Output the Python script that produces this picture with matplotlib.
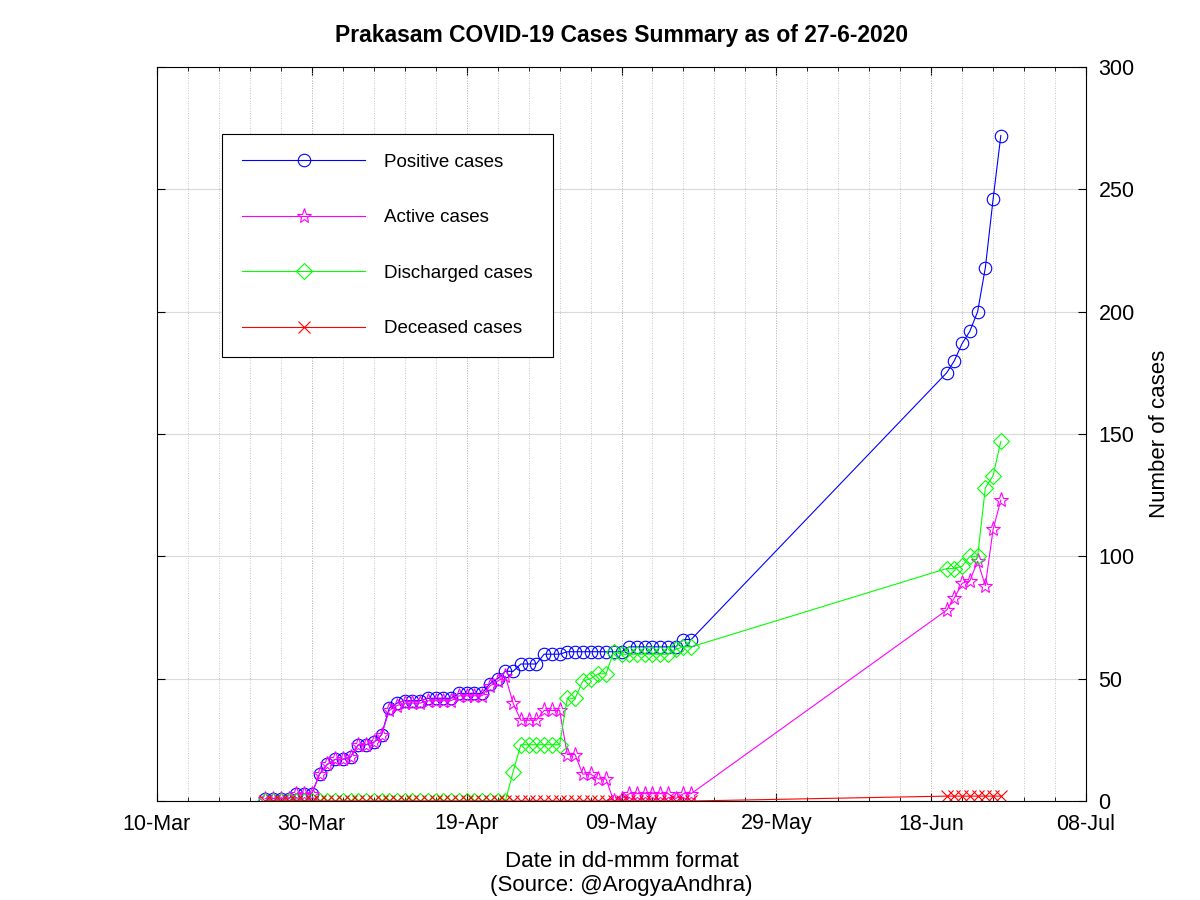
import pandas as pd
import matplotlib
matplotlib.use("Agg")
import matplotlib.pyplot as plt
import matplotlib.dates as mdates

plt.rcParams['font.family'] = ['Liberation Sans', 'DejaVu Sans']

# -------------------------------
# Data (daily bulletins, two reporting stretches)
# -------------------------------
dates = list(pd.date_range("2020-03-24", "2020-05-18")) + list(pd.date_range("2020-06-20", "2020-06-27"))

positive = [1, 1, 1, 1, 3, 3, 3, 11,
            15, 17, 17, 18, 23, 23, 24, 27, 38, 40,
            41, 41, 41, 42, 42, 42, 42, 44, 44, 44,
            44, 48, 50, 53, 53, 56, 56, 56, 60, 60,
            60, 61, 61, 61, 61, 61, 61, 61, 61, 63,
            63, 63, 63, 63, 63, 63, 66, 66,
            175, 180, 187, 192, 200, 218, 246, 272]

active = [1, 1, 1, 1, 3, 3, 3, 11,
          15, 17, 17, 18, 23, 23, 24, 27, 37, 39,
          40, 40, 40, 41, 41, 41, 41, 43, 43, 43,
          43, 47, 49, 51, 40, 33, 33, 33, 37, 37,
          37, 19, 19, 11, 11, 9, 9, 0, 1, 3,
          3, 3, 3, 3, 3, 1, 3, 3,
          78, 83, 89, 90, 98, 88, 111, 123]

discharged = [0, 0, 0, 0, 0, 0, 0, 0,
              0, 0, 0, 0, 0, 0, 0, 0, 0, 0,
              0, 0, 0, 0, 0, 0, 0, 0, 0, 0,
              0, 0, 0, 0, 12, 23, 23, 23, 23, 23,
              23, 42, 42, 49, 50, 52, 52, 61, 60, 60,
              60, 60, 60, 60, 60, 62, 63, 63,
              95, 95, 96, 100, 100, 128, 133, 147]

deceased = [0] * 56 + [2, 2, 2, 2, 2, 2, 2, 2]

x_start, x_end = "2020-03-10", "2020-07-08"

# -------------------------------
# Plot
# -------------------------------
fig = plt.figure(figsize=(12, 9), dpi=100)
ax = fig.add_axes([157 / 1200, 99 / 900, 929 / 1200, 734 / 900])

style = dict(lw=0.8, mew=0.8, mfc='none')
ax.plot(dates, positive, color='#0000ff', marker='o', ms=9, label='Positive cases', **style)
ax.plot(dates, active, color='#ff00ff', marker='*', ms=11, label='Active cases', **style)
ax.plot(dates, discharged, color='#00ff00', marker='D', ms=8, label='Discharged cases', **style)
ax.plot(dates, deceased, color='#ff0000', marker='x', ms=8.5, label='Deceased cases', **style)

ax.set_xlim(mdates.date2num(pd.Timestamp(x_start)), mdates.date2num(pd.Timestamp(x_end)))
ax.set_xticks(mdates.date2num(pd.date_range(x_start, x_end, freq="20D")))
ax.set_xticks(mdates.date2num(pd.date_range(x_start, x_end, freq="4D")), minor=True)
ax.xaxis.remove_overlapping_locs = False
ax.xaxis.set_major_formatter(mdates.DateFormatter("%d-%b"))

ax.set_ylim(0, 300)
ax.set_yticks(range(0, 301, 50))

ax.grid(True, which='both', axis='x', linestyle=(0, (1, 2)), color='0.7', lw=0.6)
ax.grid(True, which='major', axis='y', linestyle='-', color='0.85', lw=0.8)
ax.set_axisbelow(True)

ax.tick_params(axis='both', which='major', direction='in', length=6, labelsize=15.5,
               top=True, bottom=True, left=True, right=True,
               labelleft=False, labelright=True, pad=9)
ax.tick_params(axis='x', which='minor', direction='in', length=3, top=True, bottom=True)
for s in ax.spines.values():
    s.set_linewidth(0.8)

ax.yaxis.set_label_position('right')
ax.set_ylabel("Number of cases", fontsize=16, labelpad=10)
ax.set_xlabel("Date in dd-mmm format\n(Source: @ArogyaAndhra)", fontsize=16, labelpad=12)
ax.set_title("Prakasam COVID-19 Cases Summary as of 27-6-2020", fontsize=16.5, fontweight='bold', pad=18)

leg = ax.legend(loc='upper left', bbox_to_anchor=(0.07, 0.909), borderaxespad=0,
                fontsize=13.5, handlelength=6.6, handletextpad=1.0, labelspacing=2.05,
                borderpad=1.05, numpoints=1, fancybox=False, framealpha=1,
                edgecolor='black')
leg.get_frame().set_linewidth(0.8)

plt.savefig("out.png", dpi=100)
